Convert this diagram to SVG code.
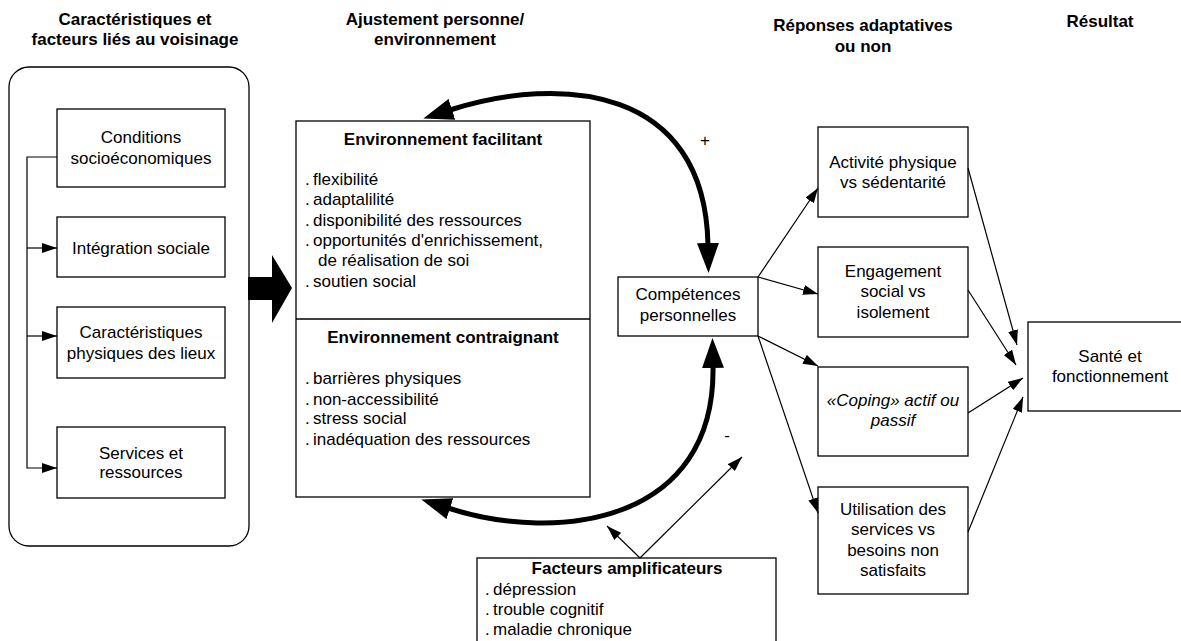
<svg xmlns="http://www.w3.org/2000/svg" width="1181" height="641" viewBox="0 0 1181 641">
<defs>
<style>
text{font-family:"Liberation Sans",Arial,sans-serif;font-size:17px;fill:#000}
.h{font-weight:bold}
.c{text-anchor:middle}
.i{font-style:italic}
.box{fill:#fff;stroke:#000;stroke-width:1.3}
.thin{fill:none;stroke:#000;stroke-width:1.2}
.thick{fill:none;stroke:#000;stroke-width:5}
</style>
<marker id="ah" viewBox="0 0 15 10" markerUnits="userSpaceOnUse" markerWidth="15" markerHeight="10" refX="15" refY="5" orient="auto"><path d="M0,0 L15,5 L0,10 z" fill="#000"/></marker>
<marker id="bh" viewBox="0 0 30 22" markerUnits="userSpaceOnUse" markerWidth="30" markerHeight="22" refX="2" refY="11" orient="auto-start-reverse"><path d="M0,0 L30,11 L0,22 z" fill="#000"/></marker>
</defs>
<rect width="1181" height="641" fill="#fff"/>

<g id="headers">
<text class="h c" x="135" y="25">Caractéristiques et</text>
<text class="h c" x="135" y="45">facteurs liés au voisinage</text>
<text class="h c" x="435" y="25">Ajustement personne/</text>
<text class="h c" x="435" y="45">environnement</text>
<text class="h c" x="863" y="31">Réponses adaptatives</text>
<text class="h c" x="863" y="52">ou non</text>
<text class="h c" x="1100" y="27">Résultat</text>
</g>

<g id="voisinage">
<rect class="box" x="9" y="67" width="240" height="479" rx="20"/>
</g>
<g id="conditions"><rect class="box" x="57" y="109" width="168" height="78"/>
<text class="c" x="141" y="143">Conditions</text><text class="c" x="141" y="164">socioéconomiques</text></g>
<g id="integration"><rect class="box" x="57" y="217" width="168" height="60"/>
<text class="c" x="141" y="254">Intégration sociale</text></g>
<g id="physiques"><rect class="box" x="57" y="307" width="168" height="71"/>
<text class="c" x="141" y="338">Caractéristiques</text><text class="c" x="141" y="359">physiques des lieux</text></g>
<g id="services"><rect class="box" x="57" y="427" width="168" height="71"/>
<text class="c" x="141" y="459">Services et</text><text class="c" x="141" y="478">ressources</text></g>

<g id="environnement">
<rect class="box" x="296" y="121" width="294" height="376"/>
<line x1="296" y1="319" x2="590" y2="319" stroke="#000" stroke-width="1.3"/>
<text class="h c" x="443" y="145">Environnement facilitant</text>
<text x="305" y="185">.</text><text x="313" y="185">flexibilité</text>
<text x="305" y="205">.</text><text x="313" y="205">adaptalilité</text>
<text x="305" y="226">.</text><text x="313" y="226">disponibilité des ressources</text>
<text x="305" y="246">.</text><text x="313" y="246">opportunités d'enrichissement,</text>
<text x="318" y="266">de réalisation de soi</text>
<text x="305" y="287">.</text><text x="313" y="287">soutien social</text>
<text class="h c" x="443" y="343">Environnement contraignant</text>
<text x="305" y="384">.</text><text x="313" y="384">barrières physiques</text>
<text x="305" y="405">.</text><text x="313" y="405">non-accessibilité</text>
<text x="305" y="424">.</text><text x="313" y="424">stress social</text>
<text x="305" y="445">.</text><text x="313" y="445">inadéquation des ressources</text>
</g>

<g id="competences"><rect class="box" x="618" y="277" width="140" height="59"/>
<text class="c" x="688" y="300">Compétences</text><text class="c" x="688" y="321">personnelles</text></g>

<g id="facteurs"><rect class="box" x="477" y="558" width="299" height="90"/>
<text class="h c" x="627" y="574">Facteurs amplificateurs</text>
<text x="485" y="595">.</text><text x="493" y="595">dépression</text>
<text x="485" y="615">.</text><text x="493" y="615">trouble cognitif</text>
<text x="485" y="635">.</text><text x="493" y="635">maladie chronique</text></g>

<g id="activite"><rect class="box" x="818" y="127" width="150" height="90"/>
<text class="c" x="893" y="168">Activité physique</text><text class="c" x="893" y="188">vs sédentarité</text></g>
<g id="engagement"><rect class="box" x="818" y="247" width="150" height="90"/>
<text class="c" x="893" y="277">Engagement</text><text class="c" x="893" y="297">social vs</text><text class="c" x="893" y="318">isolement</text></g>
<g id="coping"><rect class="box" x="818" y="367" width="150" height="89"/>
<text class="c i" x="893" y="406">«Coping» actif ou</text><text class="c i" x="893" y="426">passif</text></g>
<g id="utilisation"><rect class="box" x="818" y="487" width="150" height="107"/>
<text class="c" x="893" y="515">Utilisation des</text><text class="c" x="893" y="535">services vs</text><text class="c" x="893" y="556">besoins non</text><text class="c" x="893" y="576">satisfaits</text></g>

<g id="sante"><rect class="box" x="1028" y="322" width="166" height="89"/>
<text class="c" x="1110" y="362">Santé et</text><text class="c" x="1110" y="382">fonctionnement</text></g>

<g id="connectors">
<path class="thin" d="M57,157 H27 V468 H57" marker-end="url(#ah)"/>
<path class="thin" d="M27,248 H57" marker-end="url(#ah)"/>
<path class="thin" d="M27,336 H57" marker-end="url(#ah)"/>
<polygon points="248,277 272,277 272,255 292,288 272,323 272,300 248,300" fill="#000"/>
<path class="thick" d="M450,110 C560,75 705,85 708,245" marker-start="url(#bh)" marker-end="url(#bh)"/>
<path class="thick" d="M713,366 C716,522 560,544 448,508" marker-start="url(#bh)" marker-end="url(#bh)"/>
<line class="thin" x1="640" y1="558" x2="607" y2="526" marker-end="url(#ah)"/>
<line class="thin" x1="640" y1="558" x2="742" y2="457" marker-end="url(#ah)"/>
<line class="thin" x1="758" y1="277" x2="818" y2="188" marker-end="url(#ah)"/>
<line class="thin" x1="758" y1="277" x2="818" y2="294" marker-end="url(#ah)"/>
<line class="thin" x1="758" y1="336" x2="818" y2="366" marker-end="url(#ah)"/>
<line class="thin" x1="758" y1="336" x2="818" y2="513" marker-end="url(#ah)"/>
<line class="thin" x1="968" y1="168" x2="1017" y2="345" marker-end="url(#ah)"/>
<line class="thin" x1="968" y1="290" x2="1016" y2="365" marker-end="url(#ah)"/>
<line class="thin" x1="968" y1="413" x2="1023" y2="378" marker-end="url(#ah)"/>
<line class="thin" x1="968" y1="532" x2="1023" y2="397" marker-end="url(#ah)"/>
<text x="705" y="146" class="c">+</text>
<text x="727" y="441" class="c">-</text>
</g>
</svg>
